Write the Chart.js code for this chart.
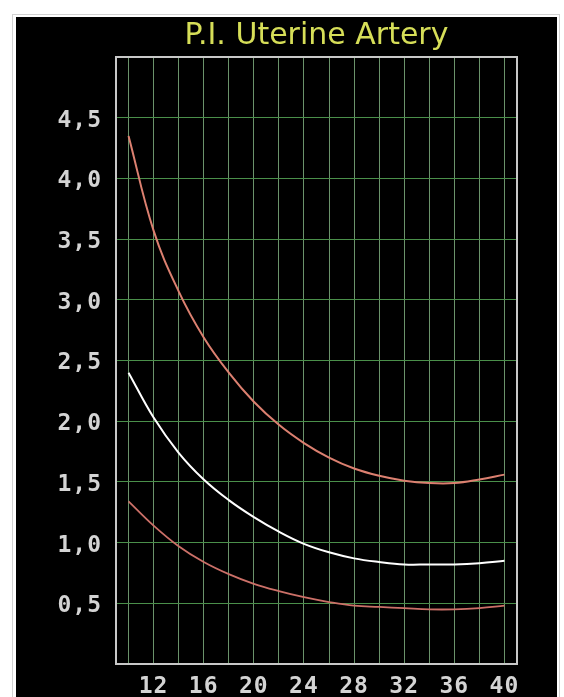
<!DOCTYPE html>
<html>
<head>
<meta charset="utf-8">
<script src="https://cdn.jsdelivr.net/npm/chart.js@4.4.1/dist/chart.umd.min.js"></script>
<style>
  html, body { margin: 0; padding: 0; background: #ffffff; width: 564px; height: 697px; overflow: hidden; }
  #frame { position: absolute; left: 12px; top: 14px; width: 548px; height: 700px; border: 1px solid #d2d2d2; box-sizing: border-box; }
  #panel { position: absolute; left: 16px; top: 17px; width: 541px; height: 680px; background: #000000; }
  #chart { display: block; }
</style>
</head>
<body>
<div id="frame"></div>
<div id="panel"><canvas id="chart" width="541" height="680"></canvas></div>
<script>
// ---- data ----
const chartTitle = "P.I. Uterine Artery";
const weeks      = [10, 12, 14, 16, 18, 20, 22, 24, 26, 28, 30, 32, 34, 36, 38, 40];
const upper95    = [4.35, 3.57, 3.07, 2.69, 2.40, 2.16, 1.97, 1.82, 1.70, 1.61, 1.55, 1.51, 1.49, 1.49, 1.52, 1.56];
const median50   = [2.40, 2.03, 1.74, 1.52, 1.35, 1.21, 1.09, 0.99, 0.92, 0.87, 0.84, 0.82, 0.82, 0.82, 0.83, 0.85];
const lower5     = [1.34, 1.14, 0.97, 0.84, 0.74, 0.66, 0.60, 0.55, 0.51, 0.48, 0.47, 0.46, 0.45, 0.45, 0.46, 0.48];
const xGridWeeks = [9, 10, 12, 14, 16, 18, 20, 22, 24, 26, 28, 30, 32, 34, 36, 38, 40, 41];
const xLabelWeeks = [12, 16, 20, 24, 28, 32, 36, 40];
const yTickValues = [0, 0.5, 1, 1.5, 2, 2.5, 3, 3.5, 4, 4.5, 5];
const yLabelValues = [0.5, 1, 1.5, 2, 2.5, 3, 3.5, 4, 4.5];

const toPoints = arr => weeks.map((w, i) => ({ x: w, y: arr[i] }));

const frameBorder = {
  id: 'frameBorder',
  beforeDraw(chart) {
    // slightly wider, pixel-font-like tick labels; the title keeps normal spacing
    chart.ctx.letterSpacing = '1px';
    const tb = chart.titleBlock;
    if (tb && !tb._noSpacingWrap) {
      const orig = tb.draw.bind(tb);
      tb.draw = function (area) {
        const ctx = chart.ctx;
        const prev = ctx.letterSpacing;
        ctx.letterSpacing = '0px';
        orig(area);
        ctx.letterSpacing = prev;
      };
      tb._noSpacingWrap = true;
    }
  },
  beforeDatasetsDraw(chart) {
    const a = chart.chartArea, ctx = chart.ctx;
    ctx.save();
    ctx.strokeStyle = '#c8c8c8';
    ctx.lineWidth = 2;
    ctx.strokeRect(a.left, a.top, a.right - a.left, a.bottom - a.top);
    ctx.restore();
  }
};

const tickFont = { family: "'DejaVu Sans Mono', monospace", size: 23, weight: 'bold' };

new Chart(document.getElementById('chart'), {
  type: 'line',
  data: {
    datasets: [
      { data: toPoints(upper95), borderColor: '#dc8070', borderWidth: 2 },
      { data: toPoints(lower5), borderColor: '#cc7068', borderWidth: 1.8 },
      { data: toPoints(median50), borderColor: '#ffffff', borderWidth: 2 }
    ]
  },
  options: {
    responsive: false,
    animation: false,
    events: [],
    layout: { padding: { left: 0, right: 40, top: 0, bottom: 0 } },
    elements: { point: { radius: 0 }, line: { tension: 0.4 } },
    plugins: {
      legend: { display: false },
      tooltip: { enabled: false },
      title: {
        display: true,
        text: chartTitle,
        fullSize: false,
        color: '#d6de58',
        font: { family: "'DejaVu Sans', sans-serif", size: 30, weight: 'normal' },
        padding: { top: 1, bottom: 3 }
      }
    },
    scales: {
      x: {
        type: 'linear',
        min: 9, max: 41,
        afterBuildTicks: s => { s.ticks = xGridWeeks.map(v => ({ value: v })); },
        afterFit: s => { s.height = 33; },
        border: { display: false },
        grid: { color: '#6a926a', lineWidth: 1, drawTicks: false },
        ticks: {
          autoSkip: false, maxRotation: 0, minRotation: 0,
          padding: 9,
          color: '#d4d4d4',
          font: tickFont,
          callback: v => xLabelWeeks.includes(v) ? String(v) : ''
        }
      },
      y: {
        type: 'linear',
        min: 0, max: 5,
        afterBuildTicks: s => { s.ticks = yTickValues.map(v => ({ value: v })); },
        afterFit: s => { s.width = 100; },
        border: { display: false },
        grid: { color: '#4a8f4a', lineWidth: 1, drawTicks: false },
        ticks: {
          autoSkip: false,
          padding: 14,
          labelOffset: 3,
          color: '#d4d4d4',
          font: tickFont,
          callback: v => yLabelValues.includes(v) ? v.toFixed(1).replace('.', ',') : ''
        }
      }
    }
  },
  plugins: [frameBorder]
});
</script>
</body>
</html>
